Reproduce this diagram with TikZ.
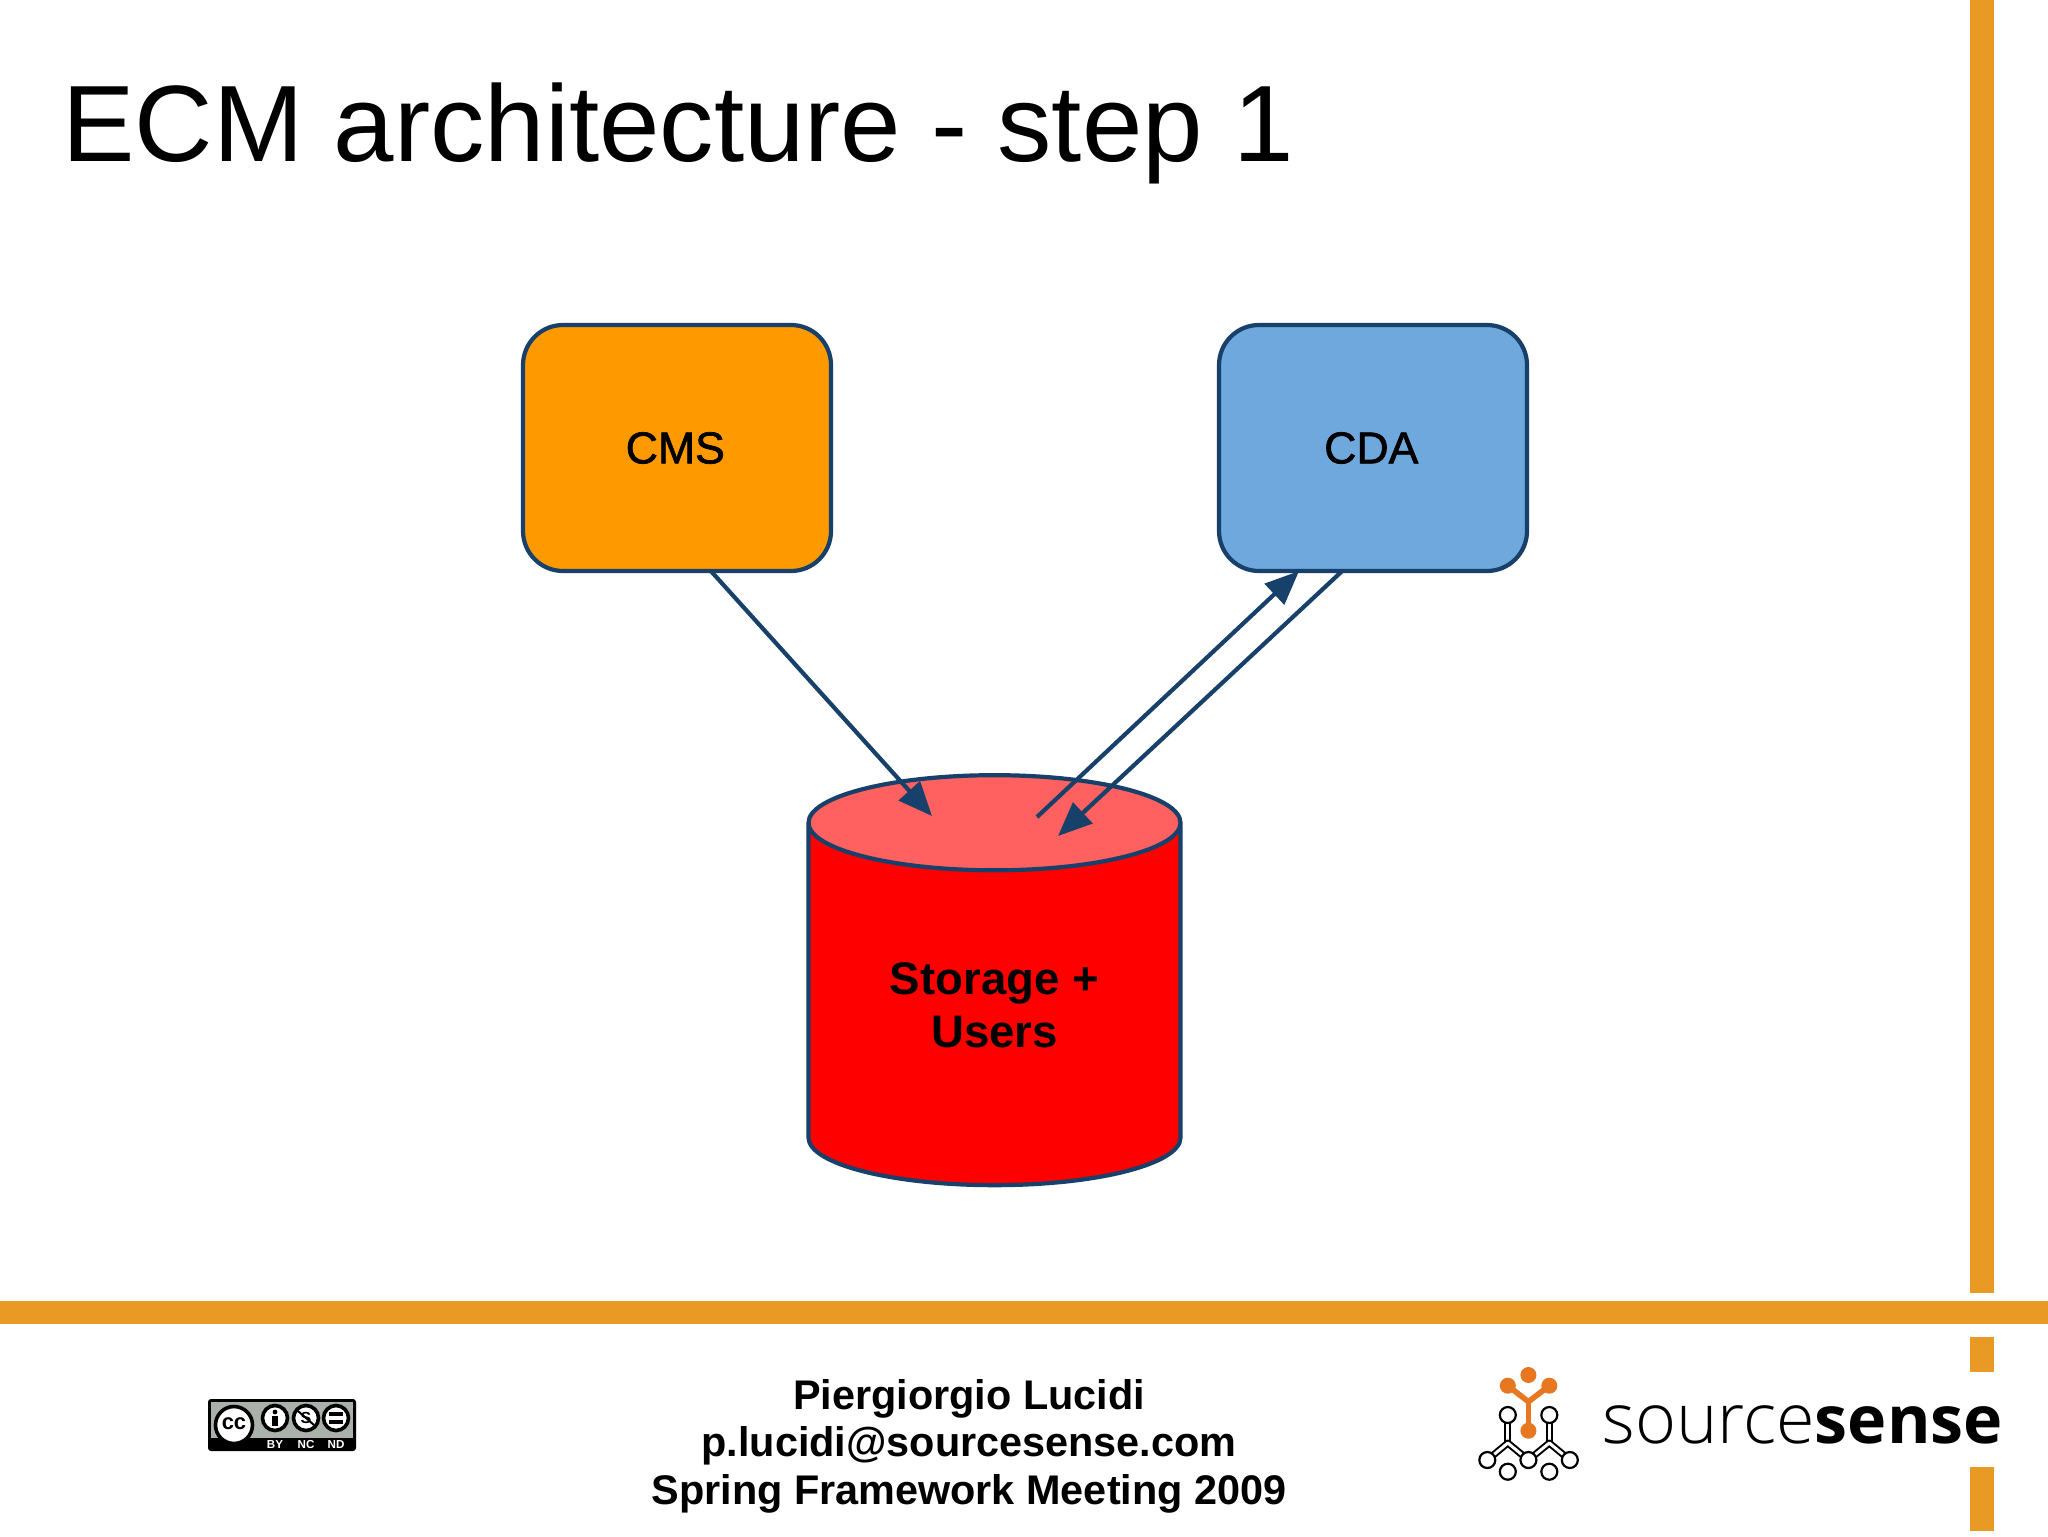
\documentclass[tikz,border=0pt]{standalone}
\usepackage{fontspec}
\setmainfont{Liberation Sans}
\newfontfamily\semifont{Liberation Sans}[FakeBold=1.5]
\newfontfamily\srclight{Open Sans Light}
\newfontfamily\srcbold{Open Sans}[UprightFont=*-Bold]
\usetikzlibrary{arrows.meta,calc,shapes.geometric}
\definecolor{barorange}{HTML}{E99A24}
\definecolor{edge}{HTML}{17406B}
\definecolor{cmsfill}{HTML}{FF9900}
\definecolor{cdafill}{HTML}{6FA8DC}
\definecolor{topfill}{HTML}{FF6060}
\definecolor{logoorange}{HTML}{E87722}
\definecolor{ccgray}{HTML}{AAB0AA}
\tikzset{
  bar/.style={fill=barorange,draw=none},
  appbox/.style={draw=edge,line width=2.1pt,rounded corners=20pt,minimum width=154pt,minimum height=123pt,inner sep=0pt,outer sep=0pt,font=\semifont\fontsize{22.3}{26}\selectfont},
  link/.style={draw=edge,line width=2.1pt,-{Triangle[length=17pt,width=14pt]}},
  foot/.style={font=\fontsize{20.7}{24}\selectfont\bfseries,inner sep=0pt},
  logoring/.style={draw=black,fill=white,line width=1.1pt},
  logodot/.style={fill=logoorange,draw=none},
  logotube/.style={draw=black,line width=3.5pt,line join=round},
  logotubein/.style={draw=white,line width=1.5pt,line join=round},
  ccring/.style={draw=black,fill=white,line width=1.8pt},
}
\begin{document}
\begin{tikzpicture}[x=0.5pt,y=-0.5pt]
\useasboundingbox (0,0) rectangle (2048,1536);
\fill[white] (0,0) rectangle (2048,1536);
% frame bars
\fill[bar] (1970,0) rectangle (1994,1293);
\fill[bar] (0,1301) rectangle (2048,1324);
\fill[bar] (1970,1337) rectangle (1994,1372);
\fill[bar] (1970,1467) rectangle (1994,1531);
% title
\node[anchor=base west,inner sep=0pt,font=\fontsize{54.3}{60}\selectfont] (title) at (62,161) {ECM architecture - step 1};
% boxes
\node[appbox,fill=cmsfill] (cms) at (677,448) {\kern-1.7pt CMS};
\node[appbox,fill=cdafill] (cda) at (1373,448) {\kern-1.7pt CDA};
% storage cylinder
\node[shape=cylinder,shape border rotate=90,aspect=0.455,draw=edge,line width=2.1pt,
  cylinder uses custom fill,cylinder body fill=red,cylinder end fill=topfill,
  minimum width=186pt,minimum height=205pt,inner sep=0pt,outer sep=0pt,align=center,
  font=\fontsize{22.8}{26.7}\selectfont\bfseries] (store) at (994.5,1005) {Storage +\\Users};
% connectors
\draw[link] ($(cms.south west)!0.61!(cms.south east)$) -- ($(store.center)+(-62.5,-189)$);
\draw[link] ($(store.center)+(42.5,-188)$) -- ($(cda.south west)!0.26!(cda.south east)$);
\draw[link] ($(cda.south west)!0.40!(cda.south east)$) -- ($(store.center)+(63.5,-169)$);
% footer text
\node[foot] (f1) at (969,1399) {Piergiorgio Lucidi};
\node[foot] (f2) at (969,1446) {p.lucidi@sourcesense.com};
\node[foot] (f3) at (969,1494) {Spring Framework Meeting 2009};
% CC badge
\fill[black,rounded corners=1.5pt] (208,1399) rectangle (356,1451);
\fill[ccgray] (211,1402) rectangle (353,1438);
\fill[black] (211,1438) rectangle (265,1448);
\node[ccring,circle,minimum size=18.5pt,inner sep=0pt] (ccmain) at (234,1425) {};
\node[font=\bfseries\fontsize{11}{12}\selectfont,inner sep=0pt] (cctext) at (234,1424) {cc};
\node[ccring,circle,minimum size=12.5pt,inner sep=0pt] (ccby) at (275,1418) {};
\node[ccring,circle,minimum size=12.5pt,inner sep=0pt] (ccnc) at (306,1418) {};
\node[ccring,circle,minimum size=12.5pt,inner sep=0pt] (ccnd) at (336,1418) {};
\fill[black] (275,1412) circle (2.4);
\fill[black] (272,1416) rectangle (278,1426);
\draw[black,line width=1pt] (298,1411) -- (314,1425);
\node[font=\bfseries\fontsize{8}{9}\selectfont,inner sep=0pt] (ccdollar) at (306,1418) {S};
\fill[black] (329,1412) rectangle (343,1416);
\fill[black] (329,1420) rectangle (343,1424);
\node[white,font=\bfseries\fontsize{5.8}{6}\selectfont,inner sep=0pt] (lby) at (275,1444) {BY};
\node[white,font=\bfseries\fontsize{5.8}{6}\selectfont,inner sep=0pt] (lnc) at (306,1444) {NC};
\node[white,font=\bfseries\fontsize{5.8}{6}\selectfont,inner sep=0pt] (lnd) at (336,1444) {ND};
% sourcesense logo
\foreach \a/\b in {1507.8/1418,1549.3/1418}{
  \draw[logotube] (\a,\b) -- (\a,1443);
  \draw[logotubein] (\a,\b) -- (\a,1443);
}
\draw[logotube] (1487.3,1460) -- (1507.8,1443) -- (1528.4,1460) -- (1549.3,1443) -- (1569.8,1460);
\draw[logotubein] (1487.3,1460) -- (1507.8,1443) -- (1528.4,1460) -- (1549.3,1443) -- (1569.8,1460);
\foreach \a/\b in {1507.8/1415,1549.3/1415,1487.3/1460,1528.4/1460,1569.8/1460,1507.8/1471.7,1549.3/1471.7}{
  \draw[logoring] (\a,\b) circle (8);
}
\draw[logoorange,line width=2.8pt,line join=round] (1507.8,1385.7) -- (1528.4,1401.7) -- (1549.3,1385.7);
\draw[logoorange,line width=2.8pt] (1528.4,1401.7) -- (1528.4,1430.7);
\foreach \a/\b in {1528.4/1375,1507.8/1385.7,1549.3/1385.7,1528.4/1430.7}{
  \fill[logodot] (\a,\b) circle (8);
}
\node[anchor=base west,inner sep=0pt,font=\fontsize{35}{40}\selectfont] (brand) at (1602,1443) {{\srclight source}{\srcbold\fontsize{33.2}{40}\selectfont sense}};
\end{tikzpicture}
\end{document}
